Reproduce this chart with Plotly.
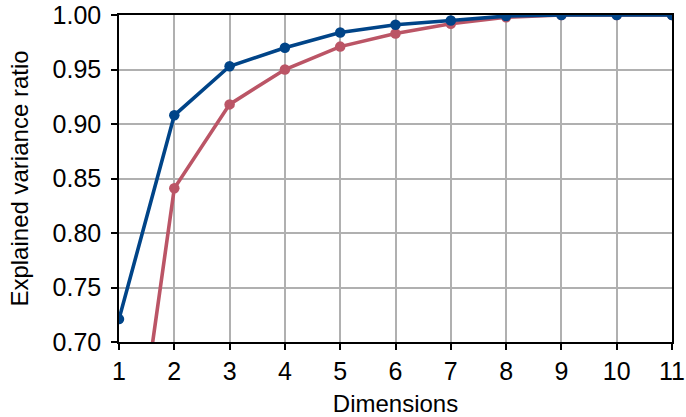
import plotly.graph_objects as go

dims = [1, 2, 3, 4, 5, 6, 7, 8, 9, 10, 11]
blue_vals = [0.721, 0.908, 0.953, 0.970, 0.984, 0.991, 0.995, 0.999, 1.0, 1.0, 1.0]
red_vals = [0.48, 0.841, 0.918, 0.950, 0.971, 0.983, 0.992, 0.998, 1.0, 1.0, 1.0]
y_ticks = [0.70, 0.75, 0.80, 0.85, 0.90, 0.95, 1.00]

fig = go.Figure()
fig.add_trace(go.Scatter(x=dims, y=red_vals, mode="lines+markers",
                         line=dict(color="#BB5566", width=3.6),
                         marker=dict(color="#BB5566", size=10.5), showlegend=False))
fig.add_trace(go.Scatter(x=dims, y=blue_vals, mode="lines+markers",
                         line=dict(color="#004488", width=3.6),
                         marker=dict(color="#004488", size=10.5), showlegend=False))

axis_common = dict(showline=True, linecolor="black", linewidth=1.5, mirror=True,
                   ticks="outside", ticklen=6, tickwidth=1.5, tickcolor="black",
                   showgrid=True, gridcolor="#b0b0b0", gridwidth=1.5, zeroline=False,
                   automargin=False,
                   tickfont=dict(size=25, color="black"))
fig.update_xaxes(range=[1, 11], tickvals=dims, ticktext=[str(d) for d in dims],
                 title=dict(text="Dimensions", font=dict(size=24, color="black"), standoff=14),
                 **axis_common)
fig.update_yaxes(range=[0.70, 1.00], tickvals=y_ticks, ticktext=[f"{v:.2f}" for v in y_ticks],
                 ticklabelstandoff=5,
                 title=dict(text="Explained variance ratio", font=dict(size=24, color="black"), standoff=17),
                 **axis_common)
fig.update_layout(width=686, height=417, margin=dict(l=119, r=14, t=15, b=75),
                  plot_bgcolor="white", paper_bgcolor="white",
                  font=dict(family="Liberation Sans, Arial, sans-serif", color="black"))
fig.write_html("out.html", config={"displayModeBar": False},
               post_script="document.body.style.margin='0';")
